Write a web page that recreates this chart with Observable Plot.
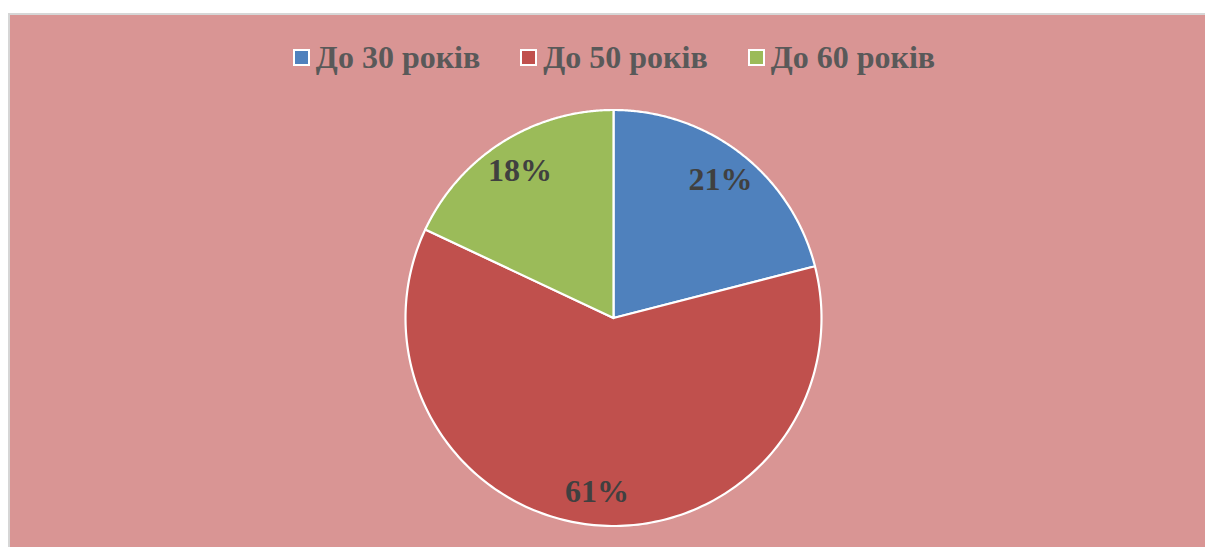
<!DOCTYPE html>
<html>
<head>
<meta charset="utf-8">
<script src="https://cdn.jsdelivr.net/npm/d3@7"></script>
<script src="https://cdn.jsdelivr.net/npm/@observablehq/plot@0.6"></script>
<style>
  html, body { margin: 0; padding: 0; background: #ffffff; width: 1205px; height: 547px; overflow: hidden; }
  #frame {
    position: absolute; left: 8px; top: 13px; width: 1200px; height: 560px;
    box-sizing: border-box; border: 2px solid #d6d6d6; background: #D99594; overflow: hidden;
  }
  #legend {
    height: 84px; display: flex; justify-content: center; align-items: center;
    font-family: "Liberation Serif", "Times New Roman", serif; font-weight: bold;
    font-size: 32px; color: #595959; padding-left: 12px; box-sizing: border-box;
  }
  .item { display: flex; align-items: center; margin: 0 20px; }
  .sw { width: 13px; height: 13px; border: 2px solid #ffffff; margin-right: 6px; margin-top: 0px; }
  #chart svg { display: block; }
</style>
</head>
<body>
<div id="frame">
  <div id="legend"></div>
  <div id="chart"></div>
</div>
<script>
const categories = ["До 30 років", "До 50 років", "До 60 років"];
const values = [21, 61, 18];
const percentLabels = ["21%", "61%", "18%"];
const colors = ["#4F81BD", "#C0504D", "#9BBB59"];

// legend
const legend = document.getElementById("legend");
categories.forEach((c, i) => {
  const item = document.createElement("div");
  item.className = "item";
  const sw = document.createElement("div");
  sw.className = "sw";
  sw.style.background = colors[i];
  const t = document.createElement("span");
  t.textContent = c;
  item.appendChild(sw);
  item.appendChild(t);
  legend.appendChild(item);
});

// pie geometry derived from data
const arcs = d3.pie().sort(null).value(d => d)(values);
const N = 180;
const slicePoints = [];
arcs.forEach((a, i) => {
  slicePoints.push({key: categories[i], x: 0, y: 0});
  for (let t = 0; t <= N; t++) {
    const ang = a.startAngle + (a.endAngle - a.startAngle) * t / N;
    slicePoints.push({key: categories[i], x: Math.sin(ang), y: Math.cos(ang)});
  }
  slicePoints.push({key: categories[i], x: 0, y: 0});
});
const labelR = 0.84;
const labelData = arcs.map((a, i) => {
  const mid = (a.startAngle + a.endAngle) / 2;
  return {label: percentLabels[i], x: labelR * Math.sin(mid), y: labelR * Math.cos(mid)};
});

const chart = Plot.plot({
  width: 1196,
  height: 448,
  marginLeft: 395,
  marginRight: 385,
  marginTop: 10.5,
  marginBottom: 21.5,
  style: {background: "transparent", overflow: "visible"},
  x: {domain: [-1, 1], axis: null},
  y: {domain: [-1, 1], axis: null},
  color: {domain: categories, range: colors},
  marks: [
    Plot.line(slicePoints, {x: "x", y: "y", z: "key", fill: "key", stroke: "#ffffff", strokeWidth: 2.2, strokeLinejoin: "round", curve: "linear"}),
    Plot.text(labelData, {x: "x", y: "y", text: "label", fontSize: 32, fontWeight: "bold", fontFamily: "Liberation Serif, Times New Roman, serif", fill: "#404040"})
  ]
});
document.getElementById("chart").appendChild(chart);
</script>
</body>
</html>
